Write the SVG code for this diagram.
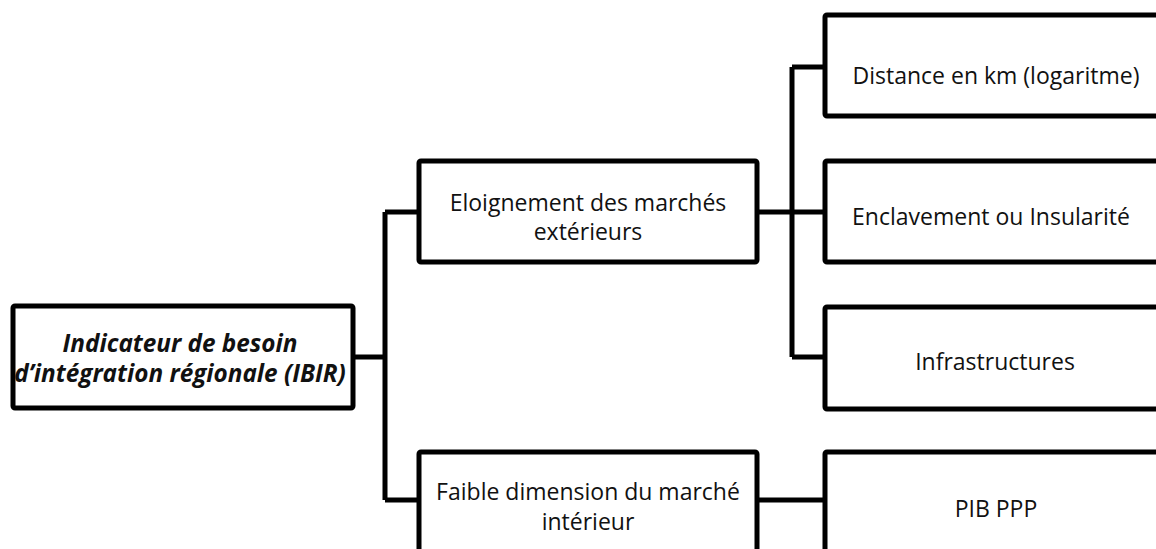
<svg xmlns="http://www.w3.org/2000/svg" width="1156" height="549" viewBox="0 0 1156 549">
<style>
.box{fill:#fff;stroke:#000;stroke-width:5}
.t{font-family:"Open Sans","Liberation Sans",sans-serif;font-size:23px;fill:#111;text-anchor:middle}
.tb{font-family:"Open Sans","Liberation Sans",sans-serif;font-size:24.3px;font-weight:bold;font-style:italic;fill:#111;text-anchor:middle}
.c{fill:none;stroke:#000;stroke-width:5;stroke-linejoin:miter}
</style>
<rect width="1156" height="549" fill="#fff"/>
<g id="connectors">
<path class="c" d="M353 357H385M385 212V500M385 212H419M385 500H419"/>
<path class="c" d="M757 212H825M792 67V357M792 67H825M792 357H825"/>
<path class="c" d="M757 500H825"/>
</g>
<g id="root">
<rect class="box" x="13" y="306" width="340" height="102" rx="2"/>
<text class="tb" x="180" y="352">Indicateur de besoin</text>
<text class="tb" x="180" y="382">d’intégration régionale (IBIR)</text>
</g>
<g id="eloignement">
<rect class="box" x="419" y="161" width="338" height="101" rx="2"/>
<text class="t" x="588" y="211">Eloignement des marchés</text>
<text class="t" x="588" y="240">extérieurs</text>
</g>
<g id="faible">
<rect class="box" x="419" y="452" width="338" height="110" rx="2"/>
<text class="t" x="588" y="500">Faible dimension du marché</text>
<text class="t" x="588" y="530">intérieur</text>
</g>
<g id="distance">
<rect class="box" x="825" y="15" width="340" height="101" rx="2"/>
<text class="t" x="996" y="84">Distance en km (logaritme)</text>
</g>
<g id="enclavement">
<rect class="box" x="825" y="161" width="340" height="101" rx="2"/>
<text class="t" x="991" y="225">Enclavement ou Insularité</text>
</g>
<g id="infrastructures">
<rect class="box" x="825" y="307" width="340" height="102" rx="2"/>
<text class="t" x="995" y="370">Infrastructures</text>
</g>
<g id="pib">
<rect class="box" x="825" y="452" width="340" height="110" rx="2"/>
<text class="t" x="996" y="517">PIB PPP</text>
</g>
</svg>
